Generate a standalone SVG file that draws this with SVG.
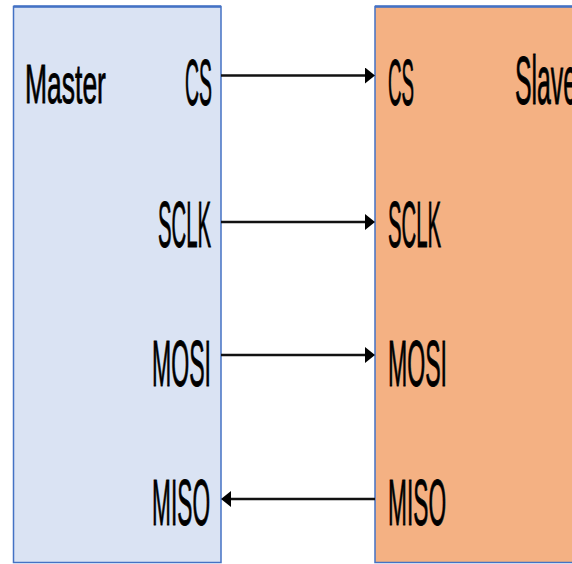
<svg xmlns="http://www.w3.org/2000/svg" width="572" height="564" viewBox="0 0 572 564">
  <defs>
    <style>
      .box { stroke: #4472C4; stroke-width: 1.5; }
      .master { fill: #DAE3F3; }
      .slave { fill: #F4B183; }
      .lbl { font-family: "Liberation Sans", Arial, sans-serif; fill: #000; stroke: #000; stroke-width: 0.9; }
      .pin { font-size: 64px; }
      .wire { stroke: #111; stroke-width: 2.6; fill: none; marker-end: url(#head); }
    </style>
    <marker id="head" markerUnits="userSpaceOnUse" viewBox="0 0 10 16" markerWidth="10" markerHeight="16" refX="3" refY="8" orient="auto">
      <path d="M0,0 L10,8 L0,16 Z" fill="#000"/>
    </marker>
  </defs>

  <rect width="572" height="564" fill="#FFFFFF"/>

  <!-- Master device -->
  <g id="master">
    <rect class="box master" x="13.5" y="6.5" width="207.5" height="556"/>
    <line x1="13.5" y1="6.5" x2="221" y2="6.5" stroke="#4472C4" stroke-width="2.5"/>
    <text class="lbl" font-size="56" transform="translate(25,103) scale(0.473,1)">Master</text>
    <text class="lbl pin" transform="translate(185,105) scale(0.304,1)">CS</text>
    <text class="lbl pin" transform="translate(158,247) scale(0.317,1)">SCLK</text>
    <text class="lbl pin" transform="translate(152,386) scale(0.361,1)">MOSI</text>
    <text class="lbl pin" transform="translate(152,525) scale(0.355,1)">MISO</text>
  </g>

  <!-- Slave device -->
  <g id="slave">
    <rect class="box slave" x="375" y="6.5" width="210" height="556"/>
    <line x1="375" y1="6.5" x2="585" y2="6.5" stroke="#4472C4" stroke-width="2.5"/>
    <text class="lbl pin" transform="translate(388,105) scale(0.293,1)">CS</text>
    <text class="lbl pin" transform="translate(388,247) scale(0.317,1)">SCLK</text>
    <text class="lbl pin" transform="translate(388,386) scale(0.361,1)">MOSI</text>
    <text class="lbl pin" transform="translate(388,525) scale(0.355,1)">MISO</text>
    <text class="lbl" font-size="68" transform="translate(515,104) scale(0.365,1)">Slave</text>
  </g>

  <!-- SPI signal lines -->
  <g id="connectors">
    <line class="wire" x1="221" y1="75.5" x2="368" y2="75.5"/>
    <line class="wire" x1="221" y1="222" x2="368" y2="222"/>
    <line class="wire" x1="221" y1="355" x2="368" y2="355"/>
    <line class="wire" x1="375" y1="499" x2="228" y2="499"/>
  </g>
</svg>
